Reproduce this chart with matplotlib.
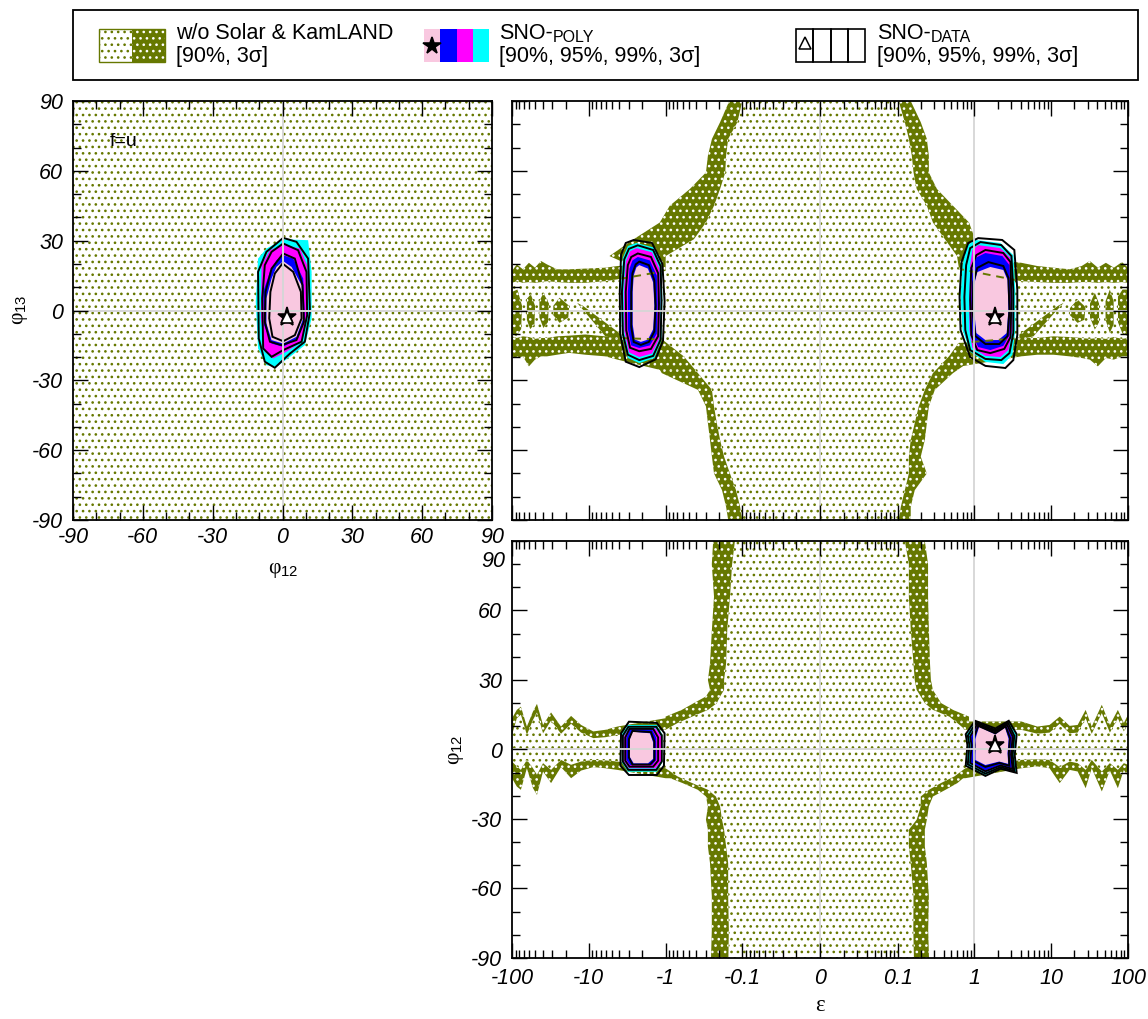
import matplotlib
matplotlib.use("Agg")
import matplotlib.pyplot as plt
from matplotlib.patches import Rectangle

# The dot hatches are laid out on a one-inch tile, so the figure is rendered
# at 115 dpi to get the ~6 px dot pitch; K converts 100-dpi sizes to points.
DPI = 115
K = 100 / DPI

plt.rcParams.update({
    "font.family": ["Liberation Sans", "DejaVu Sans"],
    "mathtext.fontset": "custom",
    "mathtext.rm": "Liberation Sans",
    "mathtext.it": "Liberation Sans:italic",
    "hatch.linewidth": 0.85,
})

# ------------------------------------------------------------------ axes ticks
PHI_MAJOR = [-90, -60, -30, 0, 30, 60, 90]
PHI_LABELS = ["-90", "-60", "-30", "0", "30", "60", "90"]
PHI_MINOR = [-80, -70, -50, -40, -20, -10, 10, 20, 40, 50, 70, 80]
EPS_MAJOR = [-100, -10, -1, -0.1, 0, 0.1, 1, 10, 100]
EPS_LABELS = ["-100", "-10", "-1", "-0.1", "0", "0.1", "1", "10", "100"]
EPS_DECADES = [0.01, 0.1, 1, 10]

# ------------------------------------------------- top-left: phi12 vs phi13 (f=u)
tl_region_phi12 = [-90, 90]
tl_region_lo = [-90, -90]
tl_region_hi = [90, 90]
tl_best = (2.0, -3.0)
tl_poly_3s = ([0.3, 11.0, 12.5, 12.5, 9.6, 3.2, -2.6, -6.9, -10.5, -11.5, -10.5, -6.9],
              [30.6, 30.2, 16.6, -3.4, -14.9, -19.9, -24.2, -23.5, -16.3, 3.7, 22.3, 26.6])
tl_poly_99 = ([0.3, 7.5, 10.6, 11.0, 8.2, 1.7, -4.0, -7.6, -9.3, -9.0, -5.4],
              [28.3, 26.6, 19.5, -0.6, -13.4, -17.7, -20.6, -17.7, -3.4, 19.5, 25.9])
tl_poly_95 = ([0.3, 4.6, 8.9, 9.6, 6.7, 0.3, -4.7, -7.9, -8.3, -5.4, -2.6],
              [23.7, 22.3, 13.7, -3.4, -12.0, -15.6, -14.2, -6.3, 8.0, 16.6, 21.6])
tl_poly_90 = ([0.3, 3.9, 8.2, 8.9, 6.0, 0.3, -4.7, -6.9, -6.9, -4.7, -2.6],
              [21.2, 18.7, 10.9, -3.4, -11.3, -14.2, -12.7, -5.6, 5.2, 13.7, 18.7])
tl_data_3s = ([0.3, 6.0, 11.0, 11.8, 9.6, 3.2, -3.3, -7.6, -10.2, -10.5, -6.9],
              [31.2, 29.5, 22.3, -0.6, -13.4, -18.5, -24.6, -22.0, -12.0, 16.6, 25.2])
tl_data_99 = ([0.3, 6.7, 10.3, 10.6, 8.2, 0.3, -4.7, -8.3, -8.7, -7.6, -4.7],
              [28.8, 25.9, 16.6, -2.0, -13.4, -17.0, -19.9, -16.3, 5.2, 19.5, 25.2])
tl_data_95 = ([0.3, 5.3, 8.6, 9.2, 6.0, -0.4, -5.4, -7.6, -7.3, -4.7],
              [24.5, 22.3, 10.9, -4.9, -12.7, -14.9, -13.4, -4.9, 8.0, 18.0])
tl_data_90 = ([0.0, 4.6, 7.9, 8.2, 5.3, 0.3, -4.3, -5.7, -5.2, -3.3],
              [20.2, 16.6, 8.0, -3.4, -10.6, -13.2, -11.3, -3.4, 8.0, 15.9])

# ---------------------------------------------- top-right: epsilon vs phi13
tr_v_phi = [90, 80.9, 73.7, 66.5, 59.3, 52.2, 45.0, 37.8, 30.6, 23.4, 12.5,
            -12.5, -19.7, -26.9, -34.1, -41.2, -48.4, -55.6, -62.8, -70.0, -77.2, -84.3, -90]
tr_v_darkL = [-0.148, -0.195, -0.249, -0.281, -0.298, -0.483, -0.883, -1.19, -2.61, -5.38, -1.0,
              -1.1, -1.5, -1.12, -0.379, -0.298, -0.281, -0.264, -0.249, -0.234, -0.184, -0.163, -0.153]
tr_v_lightL = [-0.100, -0.116, -0.153, -0.163, -0.167, -0.195, -0.234, -0.298, -0.428, -0.996, -1.0,
               -1.1, -0.579, -0.379, -0.249, -0.234, -0.215, -0.195, -0.173, -0.145, -0.121, -0.107, -0.100]
tr_v_lightR = [0.103, 0.124, 0.140, 0.153, 0.161, 0.177, 0.240, 0.288, 0.413, 0.593, 0.67,
               0.67, 0.466, 0.288, 0.226, 0.188, 0.167, 0.148, 0.140, 0.140, 0.124, 0.110, 0.103]
tr_v_darkR = [0.148, 0.200, 0.240, 0.255, 0.255, 0.325, 0.526, 0.851, 1.02, 1.56, 0.67,
              0.67, 1.08, 0.526, 0.305, 0.255, 0.240, 0.226, 0.200, 0.240, 0.167, 0.148, 0.148]

tr_h_eps = [-100, -86.5, -72.2, -60.2, -50.2, -42.0, -35.0, -25.9, -18.0, -11.1, -6.08, -4.24,
            -1.0, -0.615, 0, 0.67, 4.08, 6.61, 10.7, 17.4, 24.9, 31.8, 40.5, 51.5, 65.5, 83.4, 100]
tr_h_darkT = [17.0, 19.8, 17.7, 20.5, 18.4, 21.3, 19.8, 17.7, 17.7, 18.0, 18.4, 19.1,
              20.5, 26.3, 17.0, 23.4, 20.5, 19.1, 18.4, 17.7, 19.1, 21.3, 18.4, 20.5, 18.4, 20.8, 18.4]
tr_h_lightT = [11.9, 12.6, 11.9, 12.2, 11.9, 12.2, 12.6, 12.2, 11.9, 11.9, 12.6, 13.4,
               17.0, 20.5, 13.0, 17.7, 12.6, 12.2, 11.9, 11.9, 12.2, 12.2, 11.9, 12.2, 11.9, 12.2, 11.9]
tr_h_lightB = [-11.1, -11.8, -11.1, -11.4, -12.2, -11.8, -11.8, -11.1, -10.8, -10.3, -11.1, -11.8,
               -12.5, -15.4, -12.0, -13.9, -11.8, -11.8, -11.1, -11.4, -11.8, -12.2, -11.8, -12.2, -11.4, -12.2, -11.8]
tr_h_darkB = [-19.7, -20.4, -19.7, -24.0, -21.1, -19.7, -19.7, -19.0, -18.2, -19.0, -19.7, -21.1,
              -26.1, -25.4, -20.0, -24.0, -19.7, -19.0, -19.0, -19.7, -20.4, -21.1, -24.0, -20.4, -21.1, -19.7, -19.7]
tr_islands = [
    ([-100, -85, -74, -76, -88, -100], [8, 9, 2, -8, -11, -10]),
    ([-64, -57, -50, -51, -58, -64], [5, 7, 2, -6, -8, -4]),
    ([-44, -39, -33, -34, -39, -44], [4, 7.5, 3, -5, -7.5, -3]),
    ([-29, -24, -18, -18.5, -24, -29], [2, 5.5, 2, -3, -5.3, -2]),
    ([-14.2, -11.8, -3.76, -3.76, -6.08], [3.3, 1.9, -10.3, -12.5, -11.1]),
    ([14.5, 12.1, 3.85, 3.85, 5.87], [3.3, 1.9, -10.3, -12.5, -11.1]),
    ([17.5, 22, 28, 27, 22, 17.5], [1, 4.7, 1.5, -4, -5.3, -2]),
    ([32, 37, 42, 42, 37, 32], [3, 7.6, 3, -5, -8.2, -3]),
    ([51, 58, 65, 65, 58, 51], [4, 9, 4, -6, -9.6, -4]),
    ([74, 85, 100, 100, 85, 74], [6, 9, 9, -11, -10, -5]),
]

trL_poly_3s = ([-2.4, -1.4, -1.13, -1.1, -1.13, -1.4, -2.2, -3.1, -3.7, -3.85, -3.6, -3.1],
               [29, 27, 19.5, 4.5, -12.7, -20.4, -22.6, -20.4, -10.5, 8.8, 22.6, 27.7])
trL_poly_99 = ([-2.4, -1.5, -1.2, -1.17, -1.2, -1.5, -2.2, -3.0, -3.45, -3.5, -3.3, -2.9],
               [26.8, 25, 18, 4, -12, -18.5, -20, -18, -9, 8, 21, 25.5])
trL_poly_95 = ([-2.3, -1.6, -1.3, -1.27, -1.3, -1.6, -2.2, -2.8, -3.1, -3.1, -2.95, -2.7],
               [23, 21.5, 15, 3, -10, -15, -16.1, -15, -8, 8, 18, 21.5])
trL_poly_90 = ([-2.2, -1.7, -1.45, -1.4, -1.45, -1.7, -2.1, -2.5, -2.68, -2.68, -2.6, -2.4],
               [19.5, 18, 12, 2, -8, -12.5, -13.5, -12.5, -6, 8, 15, 18.5])
trL_data_3s = ([-2.6, -1.5, -1.1, -1.03, -1.08, -1.35, -2.2, -3.3, -3.9, -3.95, -3.8, -3.3],
               [30.3, 29, 20, 4, -13, -21, -24.3, -22, -10, 8, 24, 29])
trL_data_99 = ([-2.3, -1.45, -1.16, -1.13, -1.16, -1.45, -2.2, -3.1, -3.6, -3.7, -3.45, -3.0],
               [28, 26, 19, 4, -12.5, -19.5, -21.3, -19, -10, 8, 22, 26.5])
trL_data_95 = ([-2.3, -1.55, -1.25, -1.22, -1.25, -1.55, -2.2, -2.9, -3.25, -3.3, -3.1, -2.8],
               [24.5, 23, 16, 3, -11, -16.5, -17.5, -16, -8.5, 8, 19.5, 23])
trL_data_90 = ([-2.2, -1.65, -1.4, -1.35, -1.4, -1.65, -2.1, -2.6, -2.8, -2.8, -2.7, -2.45],
               [21, 19.5, 13, 2, -9, -13.5, -14.8, -13.5, -7, 8, 16, 19.8])

trR_best = (1.87, -2.7)
trR_poly_3s = ([1.03, 2.18, 3.21, 3.41, 3.41, 3.12, 2.38, 1.39, 0.887, 0.698, 0.66, 0.698, 0.81],
               [30.3, 29.0, 23.8, 8.8, -8.4, -19.1, -23.0, -22.1, -17.8, -8.4, 5.8, 19.5, 28.1])
trR_poly_99 = ([1.12, 2.18, 2.95, 3.12, 3.12, 2.77, 2.18, 1.39, 0.94, 0.86, 0.86, 0.88, 0.94],
               [28.1, 26.8, 22.6, 8.8, -8.4, -17.0, -20.0, -19.5, -16.1, -8.4, 5.8, 19.5, 26.0])
trR_poly_95 = ([1.39, 2.31, 2.86, 2.95, 2.86, 2.38, 1.61, 1.12, 0.94, 0.91, 0.94, 1.03],
               [24.7, 23.4, 19.5, 4.5, -10.5, -15.2, -17.0, -15.7, -10.5, 4.5, 17.4, 22.6])
trR_poly_90 = ([1.61, 2.38, 2.70, 2.77, 2.63, 2.05, 1.39, 1.06, 0.99, 0.99, 1.09],
               [18.7, 17.4, 13.1, 0.2, -9.7, -12.7, -12.7, -9.7, 0.2, 11.0, 16.5])
trR_data_3s = ([1.12, 2.30, 3.31, 3.62, 3.62, 3.21, 2.53, 1.39, 0.88, 0.66, 0.64, 0.68, 0.83],
               [31.1, 30.3, 26.0, 8.8, -10.5, -21.3, -24.7, -23.8, -20.0, -8.4, 5.8, 20.8, 29.0])
trR_data_99 = ([1.20, 2.24, 3.03, 3.21, 3.21, 2.86, 2.24, 1.39, 0.88, 0.76, 0.74, 0.78, 0.88],
               [29.4, 28.1, 23.4, 8.8, -9.7, -18.3, -21.3, -20.8, -17.0, -8.4, 5.8, 19.5, 26.8])
trR_data_95 = ([1.39, 2.38, 2.95, 3.03, 2.95, 2.45, 1.61, 1.09, 0.91, 0.88, 0.91, 1.06],
               [26.0, 24.7, 20.8, 4.5, -11.4, -16.5, -18.3, -17.0, -10.5, 4.5, 18.3, 23.8])
trR_data_90 = ([1.52, 2.38, 2.77, 2.86, 2.70, 2.11, 1.39, 1.03, 0.94, 0.97, 1.09],
               [20.8, 19.1, 14.0, 0.2, -11.0, -14.4, -14.4, -11.0, 0.2, 12.2, 18.3])

# ------------------------------------------- bottom-right: epsilon vs phi12
br_v_phi = [90, 80, 66, 52, 37, 30, 25.7, 22.9, 20.0, 17.1, 14.2, 11.4, 8.5,
            -8.1, -11.6, -14.5, -17.4, -20.3, -24.6, -30.3, -34.6, -41.8, -49.0, -63.4, -77.8, -90]
br_v_darkL = [-0.24, -0.25, -0.234, -0.249, -0.264, -0.281, -0.264, -0.298, -0.43, -0.615, -1.0, -1.0, -1.0,
              -1.0, -1.0, -0.6, -0.38, -0.298, -0.281, -0.298, -0.281, -0.281, -0.264, -0.250, -0.250, -0.256]
br_v_lightL = [-0.125, -0.136, -0.145, -0.157, -0.163, -0.173, -0.173, -0.195, -0.215, -0.28, -0.45, -0.7, -1.0,
               -1.0, -0.7, -0.45, -0.28, -0.221, -0.195, -0.184, -0.173, -0.163, -0.153, -0.153, -0.150, -0.152]
br_v_lightR = [0.124, 0.140, 0.140, 0.148, 0.161, 0.167, 0.177, 0.200, 0.226, 0.288, 0.47, 0.6, 0.76,
               0.76, 0.55, 0.366, 0.255, 0.200, 0.200, 0.177, 0.140, 0.140, 0.148, 0.161, 0.160, 0.163]
br_v_darkR = [0.226, 0.249, 0.249, 0.255, 0.264, 0.271, 0.288, 0.325, 0.37, 0.526, 0.85, 0.85, 0.76,
              0.76, 0.76, 0.6, 0.42, 0.288, 0.255, 0.240, 0.226, 0.226, 0.240, 0.255, 0.250, 0.256]

br_h_eps = [-100, -86.5, -76.6, -64.0, -53.3, -47.3, -39.4, -31.0, -23.0, -17.0, -12.6, -8.73, -6.08, -4.24,
            -1.0, 0, 0.76, 4.08, 6.61, 9.51, 12.9, 17.4, 22.1, 28.1, 33.7, 45.6, 58.1, 73.8, 88.3, 100]
br_h_darkT = [13.5, 17.1, 18.5, 9.9, 16.4, 19.7, 10.6, 16.0, 9.9, 14.5, 10.6, 7.8, 8.5, 9.9,
              13.5, 13.5, 12.1, 12.1, 9.9, 10.6, 14.2, 10.2, 10.6, 17.1, 9.9, 19.3, 10.6, 17.1, 11.4, 15.0]
br_h_lightT = [6.3, 13.5, 15.0, 6.3, 12.8, 16.0, 7.0, 12.5, 6.8, 11.1, 7.3, 4.9, 5.3, 6.3,
               8.5, 8.5, 8.5, 8.5, 6.8, 7.3, 11.1, 7.0, 7.3, 13.5, 6.8, 15.7, 7.3, 13.5, 7.8, 11.4]
br_h_lightB = [-5.2, -7.3, -8.8, -4.5, -8.1, -10.9, -5.9, -8.8, -4.5, -6.6, -5.2, -4.5, -4.7, -5.2,
               -8.1, -8.1, -8.1, -4.5, -4.2, -4.5, -7.6, -5.2, -5.9, -8.8, -4.5, -9.5, -5.9, -8.8, -5.9, -6.6]
br_h_darkB = [-12.4, -16.0, -17.4, -8.1, -16.7, -19.6, -9.5, -14.5, -7.6, -12.4, -9.1, -7.6, -8.1, -8.8,
              -12.4, -12.4, -12.4, -8.1, -7.3, -8.1, -14.5, -8.8, -9.5, -16.7, -8.1, -18.1, -9.1, -16.7, -8.8, -11.6]

brL_poly_3s = ([-3.1, -1.3, -1.10, -1.10, -1.3, -3.1, -3.73, -3.73], [10.6, 10.6, 6.5, -5.5, -9.6, -9.6, -5.5, 6.5])
brL_poly_99 = ([-3.0, -1.35, -1.14, -1.14, -1.35, -3.0, -3.51, -3.51], [9.1, 9.1, 5.5, -5, -8.1, -8.1, -5, 5.5])
brL_poly_95 = ([-2.9, -1.5, -1.32, -1.32, -1.5, -2.9, -3.24, -3.24], [8.7, 8.7, 5, -4.5, -6.7, -6.7, -4.5, 5])
brL_poly_90 = ([-2.7, -1.6, -1.45, -1.45, -1.7, -2.6, -2.95, -2.95], [7.7, 7, 3, -4, -6, -6, -3, 4])
brL_data_3s = ([-3.0, -1.3, -1.03, -1.05, -1.3, -3.0, -3.87, -3.8], [12, 11.5, 7, -7, -11, -11, -7, 7])
brL_data_99 = ([-3.05, -1.32, -1.12, -1.12, -1.32, -3.05, -3.6, -3.6], [9.8, 9.8, 6, -5.2, -8.8, -8.8, -5.2, 6])
brL_data_95 = ([-2.95, -1.45, -1.25, -1.25, -1.45, -2.95, -3.35, -3.35], [8.9, 8.9, 5.2, -4.8, -7.4, -7.4, -4.8, 5.2])
brL_data_90 = ([-2.7, -1.55, -1.4, -1.4, -1.6, -2.7, -3.0, -3.0], [8, 7.5, 3.5, -4.5, -6.5, -6.5, -3.5, 4.5])

brR_best = (1.87, 1.9)
brR_poly_3s = ([1.03, 1.87, 2.76, 3.51, 3.31, 3.51, 2.18, 1.39, 0.78, 0.83, 0.78],
               [12.0, 8.8, 12.0, 6.3, -2.4, -9.7, -8.0, -11.0, -6.7, 1.9, 6.3])
brR_poly_99 = ([1.06, 1.87, 2.7, 3.24, 3.1, 3.24, 2.18, 1.39, 0.87, 0.9, 0.87],
               [11.2, 8.0, 11.2, 5.8, -2.2, -8.8, -7.2, -9.8, -6.0, 1.9, 5.8])
brR_poly_95 = ([1.1, 1.87, 2.6, 3.07, 2.95, 3.07, 2.18, 1.39, 0.90, 0.93, 0.90],
               [10.5, 7.5, 10.5, 5.4, -2, -8, -6.6, -9.0, -5.6, 1.9, 5.4])
brR_poly_90 = ([1.15, 1.87, 2.5, 2.79, 2.7, 2.75, 2.1, 1.39, 1.03, 1.03, 1.03],
               [9.8, 6.5, 9.5, 4.5, -1.5, -6.2, -5.2, -6.7, -4.5, 1.9, 4.5])
brR_data_3s = ([1.02, 1.87, 2.8, 3.55, 3.35, 3.55, 2.2, 1.39, 0.77, 0.81, 0.77],
               [12.4, 9.1, 12.4, 6.6, -2.5, -10.1, -8.3, -11.4, -7.0, 1.9, 6.6])
brR_data_99 = ([1.05, 1.87, 2.73, 3.3, 3.15, 3.3, 2.2, 1.39, 0.82, 0.86, 0.82],
               [11.6, 8.4, 11.6, 6, -2.3, -9.3, -7.6, -10.4, -6.4, 1.9, 6])
brR_data_95 = ([1.08, 1.87, 2.65, 3.15, 3.0, 3.15, 2.18, 1.39, 0.88, 0.92, 0.88],
               [10.8, 7.8, 10.8, 5.6, -2.1, -8.4, -6.9, -9.4, -5.8, 1.9, 5.6])
brR_data_90 = ([1.12, 1.87, 2.55, 2.9, 2.8, 2.85, 2.12, 1.39, 0.98, 1.0, 0.98],
               [10.2, 7, 10, 5, -1.8, -7, -5.8, -7.5, -5, 1.9, 5])

# ------------------------------------------------------------------- styling
OLIVE = "#667800"
PINK = "#f9c8e0"
SNO_COLORS = ["#00ffff", "#ff00ff", "#0000ff", PINK]   # 3sigma, 99%, 95%, 90%
GRID = "#d6d6d6"
HATCH = "..."
FS = 15.5 * K
LIGHT = dict(facecolor="white", edgecolor=OLIVE, hatch=HATCH, linewidth=0)
DARK = dict(facecolor=OLIVE, edgecolor="white", hatch=HATCH, linewidth=0)

W, H = 1148, 1019
fig = plt.figure(figsize=(W / DPI, H / DPI), dpi=DPI)


def fig_rect(x0, y0, x1, y1):
    return [x0 / W, 1 - y1 / H, (x1 - x0) / W, (y1 - y0) / H]


def fig_text(x, y, s, ha="center", va="center", **kw):
    return fig.text(x / W, 1 - y / H, s, ha=ha, va=va, **kw)


def style_axes(ax, xpad=7):
    ax.tick_params(which="both", direction="in", top=True, right=True, width=1.0 * K)
    ax.tick_params(which="major", length=11 * K, pad=7 * K)
    ax.tick_params(axis="x", which="major", pad=xpad * K)
    ax.tick_params(which="minor", length=5.5 * K)
    for sp in ax.spines.values():
        sp.set_linewidth(1.3 * K)
        sp.set_zorder(12)
    ax.xaxis.set_zorder(11)
    ax.yaxis.set_zorder(11)


def phi_ticks(axis_obj, labels):
    axis_obj.set_ticks(PHI_MAJOR)
    axis_obj.set_ticks(PHI_MINOR, minor=True)
    axis_obj.set_ticklabels(labels, fontstyle="italic", fontsize=FS)


def eps_axis(ax, labels):
    ax.set_xscale("symlog", linthresh=0.01, linscale=0.01)
    ax.set_xlim(-100, 100)
    minor = [s * k * d for d in EPS_DECADES for k in range(2, 10) for s in (-1, 1)]
    ax.set_xticks(EPS_MAJOR)
    ax.set_xticks(minor, minor=True)
    ax.set_xticklabels(EPS_LABELS if labels else [], fontstyle="italic", fontsize=FS)


def draw_solar(ax, vphi, vdl, vll, vlr, vdr, heps, hdt, hlt, hlb, hdb, islands):
    ax.fill_betweenx(vphi, vdl, vdr, zorder=1, **DARK)
    ax.fill_between(heps, hdb, hdt, zorder=1, **DARK)
    ax.fill_betweenx(vphi, vll, vlr, zorder=1.5, **LIGHT)
    ax.fill_between(heps, hlb, hlt, zorder=1.5, **LIGHT)
    for ex, py in islands:
        ax.fill(ex, py, zorder=2, **DARK)


def draw_sno(ax, polys, datas, edges=None):
    outer = None
    for (x, y), col in zip(polys, SNO_COLORS):
        patch = ax.fill(x, y, facecolor=col, edgecolor="none", zorder=4)[0]
        if outer is None:
            outer = patch
    if edges:
        for ex, py in edges:
            ln, = ax.plot(ex, py, color=OLIVE, lw=1.4 * K, ls=(0, (4, 3)), zorder=4.5)
            ln.set_clip_path(outer)
    for x, y in datas:
        ax.fill(x, y, facecolor="none", edgecolor="black", lw=1.4 * K, zorder=5)


def best_fit(ax, pt):
    ax.plot(*pt, marker="*", ms=14 * K, color="black", zorder=9)
    ax.plot(*pt, marker="^", ms=8 * K, mfc="white", mec="black", mew=1.2 * K, zorder=10)


# ----------------------------------------------------------- top-left panel
ax_tl = fig.add_axes(fig_rect(73, 101, 492, 520))
ax_tl.fill_between(tl_region_phi12, tl_region_lo, tl_region_hi, zorder=1, **LIGHT)
draw_sno(ax_tl, [tl_poly_3s, tl_poly_99, tl_poly_95, tl_poly_90],
         [tl_data_3s, tl_data_99, tl_data_95, tl_data_90])
ax_tl.axhline(0, color=GRID, lw=1.4 * K, zorder=8)
ax_tl.axvline(0, color=GRID, lw=1.4 * K, zorder=8)
best_fit(ax_tl, tl_best)
ax_tl.set_xlim(-90, 90)
ax_tl.set_ylim(-90, 90)
phi_ticks(ax_tl.xaxis, PHI_LABELS)
phi_ticks(ax_tl.yaxis, PHI_LABELS)
ax_tl.text(-74, 72.7, "f=u", fontsize=14 * K, ha="left", va="center", zorder=9)
style_axes(ax_tl, xpad=5)

# ---------------------------------------------------------- top-right panel
ax_tr = fig.add_axes(fig_rect(512, 101, 1128, 520))
draw_solar(ax_tr, tr_v_phi, tr_v_darkL, tr_v_lightL, tr_v_lightR, tr_v_darkR,
           tr_h_eps, tr_h_darkT, tr_h_lightT, tr_h_lightB, tr_h_darkB, tr_islands)
tr_edges = [(tr_h_eps, tr_h_lightT), (tr_h_eps, tr_h_lightB)]
draw_sno(ax_tr, [trL_poly_3s, trL_poly_99, trL_poly_95, trL_poly_90],
         [trL_data_3s, trL_data_99, trL_data_95, trL_data_90], tr_edges)
draw_sno(ax_tr, [trR_poly_3s, trR_poly_99, trR_poly_95, trR_poly_90],
         [trR_data_3s, trR_data_99, trR_data_95, trR_data_90], tr_edges)
for xv in (0, 1):
    ax_tr.axvline(xv, color=GRID, lw=1.3 * K, zorder=8)
ax_tr.axhline(0, color=GRID, lw=1.3 * K, zorder=8)
best_fit(ax_tr, trR_best)
eps_axis(ax_tr, False)
ax_tr.set_ylim(-90, 90)
phi_ticks(ax_tr.yaxis, [])
style_axes(ax_tr)

# ------------------------------------------------------- bottom-right panel
ax_br = fig.add_axes(fig_rect(512, 541, 1128, 958))
draw_solar(ax_br, br_v_phi, br_v_darkL, br_v_lightL, br_v_lightR, br_v_darkR,
           br_h_eps, br_h_darkT, br_h_lightT, br_h_lightB, br_h_darkB, [])
draw_sno(ax_br, [brL_poly_3s, brL_poly_99, brL_poly_95, brL_poly_90],
         [brL_data_3s, brL_data_99, brL_data_95, brL_data_90])
draw_sno(ax_br, [brR_poly_3s, brR_poly_99, brR_poly_95, brR_poly_90],
         [brR_data_3s, brR_data_99, brR_data_95, brR_data_90])
for xv in (0, 1):
    ax_br.axvline(xv, color=GRID, lw=1.3 * K, zorder=8)
ax_br.axhline(0, color=GRID, lw=1.3 * K, zorder=8)
best_fit(ax_br, brR_best)
eps_axis(ax_br, True)
ax_br.set_ylim(-90, 90)
# the top "90" sits a little lower, clear of the left panel's "90"
phi_ticks(ax_br.yaxis, PHI_LABELS[:-1] + [""])
style_axes(ax_br)
fig_text(505, 551, PHI_LABELS[-1], ha="right", va="top", fontsize=FS, fontstyle="italic")

# ----------------------------------------------------------- axis titles
fig_text(20, 310, "φ$_{13}$", rotation=90, fontsize=FS, family="Liberation Serif")
fig_text(283, 570, "φ$_{12}$", fontsize=FS, family="Liberation Serif")
fig_text(456, 750, "φ$_{12}$", rotation=90, fontsize=FS, family="Liberation Serif")
fig_text(820, 1005, "ε", fontsize=FS + K, family="Liberation Serif")

# ---------------------------------------------------------------- legend
lg = fig.add_axes(fig_rect(73, 10, 1138, 80))
lg.set_xlim(0, 1065)
lg.set_ylim(70, 0)
lg.axis("off")
lg.add_patch(Rectangle((0, 0), 1065, 70, fill=False, ec="black", lw=1.3 * K, clip_on=False))

lg.add_patch(Rectangle((26, 19), 33, 33, **LIGHT))
lg.add_patch(Rectangle((59, 19), 33, 33, **DARK))
lg.add_patch(Rectangle((26, 19), 66, 33, fill=False, ec=OLIVE, lw=1.0 * K))
lg.text(103, 29, "w/o Solar & KamLAND", fontsize=FS, va="baseline")
lg.text(103, 52, "[90%, 3σ]", fontsize=FS, va="baseline")

for i, col in enumerate(SNO_COLORS[::-1]):
    lg.add_patch(Rectangle((351 + 16.25 * i, 19), 16.25, 33, fc=col, ec="none"))
lg.plot(359, 36, marker="*", ms=13 * K, color="black")
t_poly = lg.text(426, 29, "SNO-", fontsize=FS, va="baseline")
lg.annotate("POLY", xy=(1, 0), xycoords=t_poly, fontsize=11.5 * K, va="bottom", ha="left",
            xytext=(0, -1 * K), textcoords="offset points")
lg.text(426, 52, "[90%, 95%, 99%, 3σ]", fontsize=FS, va="baseline")

for i in range(4):
    lg.add_patch(Rectangle((723 + 17.25 * i, 19), 17.25, 33, fill=False, ec="black", lw=1.2 * K))
lg.plot(731.5, 33, marker="^", ms=8 * K, mfc="white", mec="black", mew=1.1 * K)
t_data = lg.text(804, 29, "SNO-", fontsize=FS, va="baseline")
lg.annotate("DATA", xy=(1, 0), xycoords=t_data, fontsize=11.5 * K, va="bottom", ha="left",
            xytext=(0, -1 * K), textcoords="offset points")
lg.text(804, 52, "[90%, 95%, 99%, 3σ]", fontsize=FS, va="baseline")

fig.savefig("out.png", dpi=DPI)
